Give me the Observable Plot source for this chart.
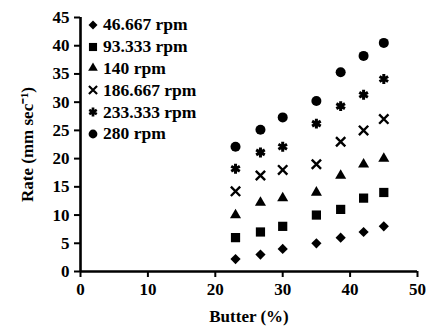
<!DOCTYPE html>
<html>
<head>
<meta charset="utf-8">
<script src="https://cdn.jsdelivr.net/npm/d3@7"></script>
<script src="https://cdn.jsdelivr.net/npm/@observablehq/plot@0.6"></script>
<style>
  body { margin: 0; background: #fff; }
  #wrap { position: relative; width: 426px; height: 330px; font-family: "Liberation Serif", serif; }
  #legend { position: absolute; left: 86px; top: 14px; font: bold 17.5px "Liberation Serif", serif; color: #000; }
  .row { display: flex; align-items: center; height: 21.8px; }
  .row svg { width: 14px; height: 14px; margin-right: 3px; }
</style>
</head>
<body>
<div id="wrap"><div id="legend"></div></div>
<script>
const butter = [23, 26.7, 30, 35, 38.6, 42, 45];
const seriesNames = ["46.667 rpm", "93.333 rpm", "140 rpm", "186.667 rpm", "233.333 rpm", "280 rpm"];
const rpm46 = [2.2, 3, 4, 5, 6, 7, 8];
const rpm93 = [6, 7, 8, 10, 11, 13, 14];
const rpm140 = [10, 12.2, 13, 14, 17, 19, 20];
const rpm186 = [14.2, 17, 18, 19, 23, 25, 27];
const rpm233 = [18.2, 21.1, 22.1, 26.2, 29.3, 31.3, 34.1];
const rpm280 = [22.1, 25.1, 27.3, 30.2, 35.3, 38.2, 40.5];
const xTicks = [0, 10, 20, 30, 40, 50];
const yTicks = [0, 5, 10, 15, 20, 25, 30, 35, 40, 45];

const seriesValues = [rpm46, rpm93, rpm140, rpm186, rpm233, rpm280];
const symbols = ["diamond2", "square", "triangle", "times", "asterisk", "circle"];
const filled = [true, true, true, false, false, true];
const sizes = [4.6, 5.2, 4.1, 4.3, 4.7, 5];
const strokeWidths = [0, 0, 0, 2.4, 3, 0];
const legendScale = 0.88;

const rows = seriesNames.flatMap((name, i) =>
  butter.map((b, j) => ({series: name, butter: b, rate: seriesValues[i][j]})));

const dotMarks = seriesNames.map((name, i) =>
  Plot.dot(rows.filter(d => d.series === name), {
    x: "butter", y: "rate", symbol: symbols[i], r: sizes[i],
    fill: filled[i] ? "#000" : "none",
    stroke: filled[i] ? "none" : "#000",
    strokeWidth: strokeWidths[i]
  }));

const chart = Plot.plot({
  width: 426,
  height: 330,
  marginLeft: 80,
  marginRight: 9,
  marginTop: 17,
  marginBottom: 59,
  style: {fontFamily: "Liberation Serif, serif", fontSize: "17px", fontWeight: "bold", color: "#000", background: "#fff"},
  x: {domain: [0, 50]},
  y: {domain: [0, 45]},
  marks: [
    Plot.axisX({ticks: xTicks, tickSize: 6, tickPadding: 5, strokeWidth: 2, fontSize: 17,
      label: "Butter (%)", labelAnchor: "center", labelArrow: "none", labelOffset: 50}),
    Plot.axisY({ticks: yTicks, tickSize: 6, tickPadding: 5, strokeWidth: 2, fontSize: 17,
      label: "Rate (mm sec\u207B\u00B9)", labelAnchor: "center", labelArrow: "none", labelOffset: 60}),
    Plot.ruleX([0], {strokeWidth: 2.6}),
    Plot.ruleY([0], {strokeWidth: 2.6}),
    ...dotMarks
  ]
});
document.getElementById("wrap").prepend(chart);

// Legend
const legend = d3.select("#legend");
const symMap = {diamond2: d3.symbolDiamond2, square: d3.symbolSquare, triangle: d3.symbolTriangle,
  times: d3.symbolTimes, asterisk: d3.symbolAsterisk, circle: d3.symbolCircle};
seriesNames.forEach((name, i) => {
  const row = legend.append("div").attr("class", "row");
  const svg = row.append("svg").attr("viewBox", "-7 -7 14 14");
  const r = sizes[i] * legendScale;
  svg.append("path")
    .attr("d", d3.symbol(symMap[symbols[i]], Math.PI * r * r)())
    .attr("fill", filled[i] ? "#000" : "none")
    .attr("stroke", filled[i] ? "none" : "#000")
    .attr("stroke-width", strokeWidths[i] * 0.9);
  row.append("span").text(name);
});
</script>
</body>
</html>
